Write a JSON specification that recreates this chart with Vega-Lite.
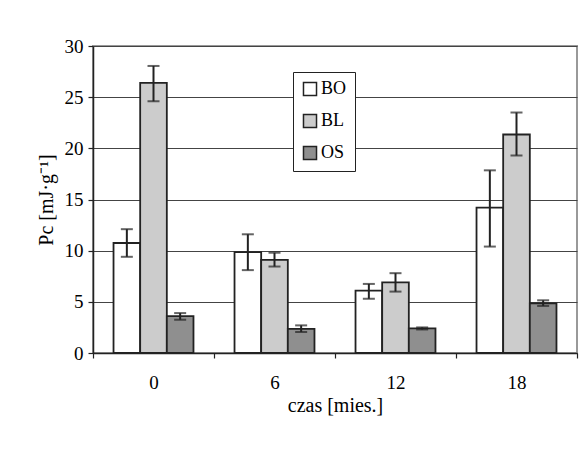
{
  "$schema": "https://vega.github.io/schema/vega-lite/v6.json",
  "width": 484,
  "height": 307,
  "autosize": {"type": "none"},
  "padding": {"left": 93, "top": 46, "right": 7, "bottom": 96},
  "background": "white",
  "data": {
    "values": [
      {"czas": "0", "seria": "BO", "Pc": 10.75, "low": 9.4, "high": 12.1},
      {"czas": "0", "seria": "BL", "Pc": 26.4, "low": 24.6, "high": 28.05},
      {"czas": "0", "seria": "OS", "Pc": 3.6, "low": 3.25, "high": 3.9},
      {"czas": "6", "seria": "BO", "Pc": 9.85, "low": 8.1, "high": 11.6},
      {"czas": "6", "seria": "BL", "Pc": 9.1, "low": 8.45, "high": 9.8},
      {"czas": "6", "seria": "OS", "Pc": 2.35, "low": 2.05, "high": 2.7},
      {"czas": "12", "seria": "BO", "Pc": 6.1, "low": 5.3, "high": 6.75},
      {"czas": "12", "seria": "BL", "Pc": 6.9, "low": 6.0, "high": 7.8},
      {"czas": "12", "seria": "OS", "Pc": 2.4, "low": 2.3, "high": 2.5},
      {"czas": "18", "seria": "BO", "Pc": 14.2, "low": 10.4, "high": 17.85},
      {"czas": "18", "seria": "BL", "Pc": 21.35, "low": 19.3, "high": 23.5},
      {"czas": "18", "seria": "OS", "Pc": 4.85, "low": 4.6, "high": 5.15}
    ]
  },
  "encoding": {
    "x": {
      "field": "czas",
      "type": "ordinal",
      "sort": ["0", "6", "12", "18"],
      "scale": {"paddingInner": 0, "paddingOuter": 0},
      "axis": {
        "title": "czas [mies.]",
        "labelAngle": 0,
        "tickBand": "extent",
        "grid": false,
        "tickSize": 5,
        "labelPadding": 15,
        "titlePadding": 3
      }
    },
    "xOffset": {
      "field": "seria",
      "type": "nominal",
      "sort": ["BO", "BL", "OS"],
      "scale": {"paddingInner": 0, "paddingOuter": 0.77}
    }
  },
  "layer": [
    {
      "mark": {"type": "bar", "stroke": "#222222", "strokeWidth": 1.8},
      "encoding": {
        "y": {
          "field": "Pc",
          "type": "quantitative",
          "scale": {"domain": [0, 30], "nice": false},
          "axis": {
            "title": "Pc [mJ·g⁻¹]",
            "values": [0, 5, 10, 15, 20, 25, 30],
            "tickSize": 5,
            "labelPadding": 5,
            "titlePadding": 8,
            "grid": true
          }
        },
        "fill": {
          "field": "seria",
          "type": "nominal",
          "sort": ["BO", "BL", "OS"],
          "scale": {"domain": ["BO", "BL", "OS"], "range": ["#ffffff", "#cccccc", "#8f8f8f"]},
          "legend": {
            "title": null,
            "orient": "none",
            "legendX": 200,
            "legendY": 26,
            "direction": "vertical",
            "fillColor": "white",
            "strokeColor": "#222222",
            "padding": 8,
            "symbolType": "square",
            "symbolSize": 170,
            "symbolStrokeColor": "#222222",
            "symbolStrokeWidth": 1.5,
            "labelFont": "Times New Roman, Liberation Serif, serif",
            "labelFontSize": 18,
            "labelColor": "black",
            "labelOffset": 2,
            "rowPadding": 12
          }
        }
      }
    },
    {
      "mark": {"type": "rule", "color": "#222222", "strokeWidth": 2},
      "encoding": {
        "y": {"field": "low", "type": "quantitative"},
        "y2": {"field": "high"}
      }
    },
    {
      "mark": {"type": "tick", "color": "#222222", "thickness": 2, "size": 12, "orient": "horizontal"},
      "encoding": {"y": {"field": "low", "type": "quantitative"}}
    },
    {
      "mark": {"type": "tick", "color": "#222222", "thickness": 2, "size": 12, "orient": "horizontal"},
      "encoding": {"y": {"field": "high", "type": "quantitative"}}
    }
  ],
  "config": {
    "font": "Times New Roman, Liberation Serif, serif",
    "view": {"stroke": "#999999", "strokeWidth": 2},
    "axis": {
      "labelFont": "Times New Roman, Liberation Serif, serif",
      "titleFont": "Times New Roman, Liberation Serif, serif",
      "labelFontSize": 19,
      "titleFontSize": 20,
      "titleFontWeight": "normal",
      "labelColor": "black",
      "titleColor": "black",
      "domainColor": "#222222",
      "domainWidth": 1.5,
      "tickColor": "#222222",
      "tickWidth": 1.2,
      "gridColor": "#444444",
      "gridWidth": 1,
      "gridOpacity": 1
    }
  }
}
